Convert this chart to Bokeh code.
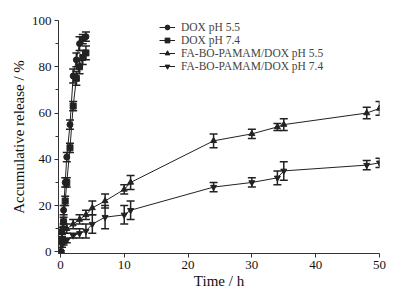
from bokeh.plotting import figure
from bokeh.models import Range1d, FixedTicker, Whisker, ColumnDataSource, Legend, LegendItem
from bokeh.embed import file_html
from bokeh.resources import INLINE

t_dox = [0, 0.25, 0.5, 0.75, 1, 1.5, 2, 2.5, 3, 3.5, 4]
dox55 = [0, 9, 18, 30, 41, 55, 76, 83, 90, 92, 93]
dox55_err = [0.5, 1.5, 2, 2, 2, 2, 3, 3, 3, 2, 2]
dox74 = [0, 5, 13, 22, 30, 45, 63, 75, 80, 84, 86]
dox74_err = [0.5, 1.5, 2, 2, 2, 2, 2, 3, 3, 3, 3]

t_fa = [0, 0.25, 0.5, 1, 2, 3, 4, 5, 7, 10, 11, 24, 30, 34, 35, 48, 50]
fa55 = [0, 6, 10, 10, 12, 14, 16, 19, 22, 27, 30, 48, 51, 54, 55, 60, 62]
fa55_err = [0.5, 2, 2, 2, 2, 2, 2, 3, 3, 2, 3, 3, 2, 1.5, 2.5, 2.5, 3]
fa74 = [0, 3, 4, 5, 7, 8, 9, 12, 15, 16, 18, 28, 30, 32, 35, 37.5, 38.5]
fa74_err = [0.5, 1, 1, 1, 1, 2, 3, 4, 5, 4, 4, 2, 2, 3, 4, 2, 2]

x_ticks = [0, 10, 20, 30, 40, 50]
y_ticks = [0, 20, 40, 60, 80, 100]
labels = ["DOX pH 5.5", "DOX pH 7.4", "FA-BO-PAMAM/DOX pH 5.5", "FA-BO-PAMAM/DOX pH 7.4"]

FONT = "Liberation Serif"

p = figure(width=412, height=296, output_backend="svg", toolbar_location=None,
           x_range=Range1d(-0.3, 50), y_range=Range1d(-0.7, 100),
           min_border_left=58, min_border_top=20, min_border_right=33, min_border_bottom=43)
p.outline_line_color = None
p.grid.visible = False

p.xaxis.ticker = FixedTicker(ticks=x_ticks)
p.yaxis.ticker = FixedTicker(ticks=y_ticks, minor_ticks=[10, 30, 50, 70, 90])
for ax in (p.xaxis[0], p.yaxis[0]):
    ax.major_label_text_font = FONT
    ax.major_label_text_font_size = "13px"
    ax.axis_label_text_font = FONT
    ax.axis_label_text_font_size = "15px"
    ax.axis_label_text_font_style = "normal"
    ax.major_tick_out = 4
    ax.major_tick_in = 0
    ax.minor_tick_out = 3
    ax.minor_tick_in = 0
    ax.major_label_standoff = 3
    ax.axis_line_color = "#333333"
    ax.major_tick_line_color = "#333333"
    ax.minor_tick_line_color = "#333333"
    ax.major_label_text_color = "#111111"
    ax.axis_label_text_color = "#111111"
p.xaxis.minor_tick_line_color = None
p.xaxis.axis_label = "Time / h"
p.yaxis.axis_label = "Accumulative release / %"
p.xaxis.axis_label_standoff = 1
p.yaxis.axis_label_standoff = 2

series = [
    (t_dox, dox55, dox55_err, "circle"),
    (t_dox, dox74, dox74_err, "square"),
    (t_fa, fa55, fa55_err, "triangle"),
    (t_fa, fa74, fa74_err, "inverted_triangle"),
]
leg_y = [220, 207, 194, 181]
for (t, y, e, m), lab, ly in zip(series, labels, leg_y):
    src = ColumnDataSource(dict(x=t, y=y, lo=[a - b for a, b in zip(y, e)], hi=[a + b for a, b in zip(y, e)]))
    w = Whisker(base="x", lower="lo", upper="hi", source=src, line_color="#222222", line_width=1.5)
    w.upper_head.size = 8
    w.lower_head.size = 8
    w.upper_head.line_color = "#222222"
    w.lower_head.line_color = "#222222"
    w.upper_head.line_width = 1.5
    w.lower_head.line_width = 1.5
    p.add_layout(w)
    l = p.line("x", "y", source=src, line_color="#222222", line_width=1)
    s = p.scatter("x", "y", source=src, marker=m, size=6, fill_color="#222222", line_color="#222222")
    leg = Legend(items=[LegendItem(label=lab, renderers=[l, s])], location=(101, ly),
                 background_fill_alpha=0, border_line_color=None,
                 label_text_font=FONT, label_text_font_size="11.5px", label_height=12, glyph_height=12,
                 glyph_width=16, spacing=0, padding=0, margin=0, label_standoff=6)
    p.add_layout(leg, "center")

open("out.html", "w").write(file_html(p, INLINE))
